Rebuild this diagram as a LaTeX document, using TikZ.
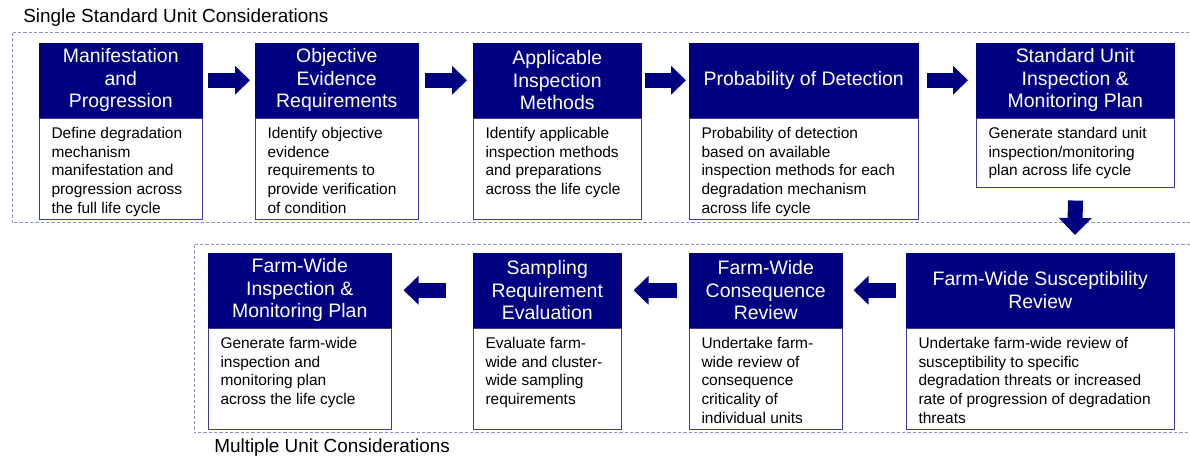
\documentclass[tikz,border=0pt]{standalone}
\usepackage{fontspec}
\setmainfont{Liberation Sans}
\usetikzlibrary{arrows.meta}
\definecolor{navyhead}{RGB}{0,0,128}
\definecolor{bodyline}{RGB}{60,60,160}
\definecolor{dashgrey}{RGB}{135,150,180}
% body text block: width (px), height (px), lines
\newcommand\bodytext[3]{\parbox[c][\dimexpr#2pt*3/4-14pt\relax][t]{\dimexpr#1pt*3/4\relax}{\raggedright\leftskip=9pt\relax #3}}
\begin{document}
\begin{tikzpicture}[x=0.75pt,y=-0.75pt,
  head/.style={draw=navyhead, fill=navyhead, text=white, align=center, inner sep=0pt,
    minimum height=55.5pt, font=\fontsize{14.6}{16.9}\selectfont, anchor=north west},
  body/.style={draw=bodyline, line width=0.75pt, fill=white, inner xsep=0pt, inner ysep=7pt,
    anchor=north west, font=\fontsize{11.6}{14}\selectfont},
  flow/.style={draw=navyhead, line width=11.25pt, -{Triangle[length=11.25pt,width=21pt]}},
  group/.style={draw=dashgrey, line width=0.75pt, dash pattern=on 2.5pt off 1.5pt},
  caption/.style={font=\fontsize{14.2}{17}\selectfont, anchor=west, inner sep=0pt}]
\useasboundingbox (0,0) rectangle (1190,459);
\clip (0,0) rectangle (1190,459);

% group frames
\draw[group] (12,33) rectangle (1200,223);
\draw[group] (194,245) rectangle (1200,433);
\node[caption] (t1) at (23,18) {Single Standard Unit Considerations};
\node[caption] (t2) at (214,448) {Multiple Unit Considerations};

% single standard unit row
\node[head, minimum width=122.25pt] (h1) at (39,43) {Manifestation\\and\\Progression};
\node[body] (b1) at (h1.south west) {\bodytext{163}{101}{Define degradation\\mechanism\\manifestation and\\progression across\\the full life cycle}};

\node[head, minimum width=122.25pt] (h2) at (255,43) {Objective\\Evidence\\Requirements};
\node[body] (b2) at (h2.south west) {\bodytext{163}{101}{Identify objective\\evidence\\requirements to\\provide verification\\of condition}};

\node[head, minimum width=126pt] (h3) at (473,43) {Applicable\\Inspection\\Methods};
\node[body] (b3) at (h3.south west) {\bodytext{168}{101}{Identify applicable\\inspection methods\\and preparations\\across the life cycle}};

\node[head, minimum width=171.75pt] (h4) at (689,43) {Probability of Detection};
\node[body] (b4) at (h4.south west) {\bodytext{229}{101}{Probability of detection\\based on available\\inspection methods for each\\degradation mechanism\\across life cycle}};

\node[head, minimum width=148.5pt] (h5) at (976,43) {Standard Unit\\Inspection \&\\Monitoring Plan};
\node[body] (b5) at (h5.south west) {\bodytext{198}{69}{Generate standard unit\\inspection/monitoring\\plan across life cycle}};

% multiple unit row
\node[head, minimum width=137.25pt] (h6) at (208,253) {Farm-Wide\\Inspection \&\\Monitoring Plan};
\node[body] (b6) at (h6.south west) {\bodytext{183}{101}{Generate farm-wide\\inspection and\\monitoring plan\\across the life cycle}};

\node[head, minimum width=111pt] (h7) at (473,253) {Sampling\\Requirement\\Evaluation};
\node[body] (b7) at (h7.south west) {\bodytext{148}{101}{Evaluate farm-\\wide and cluster-\\wide sampling\\requirements}};

\node[head, minimum width=114.75pt] (h8) at (689,253) {Farm-Wide\\Consequence\\Review};
\node[body] (b8) at (h8.south west) {\bodytext{153}{101}{Undertake farm-\\wide review of\\consequence\\criticality of\\individual units}};

\node[head, minimum width=201pt] (h9) at (906,253) {Farm-Wide Susceptibility\\Review};
\node[body] (b9) at (h9.south west) {\bodytext{268}{101}{Undertake farm-wide review of\\susceptibility to specific\\degradation threats or increased\\rate of progression of degradation\\threats}};

% flow arrows
\draw[flow, shorten <=3.75pt, shorten >=3.75pt] (h1.east) -- (h2.west);
\draw[flow, shorten <=4.5pt, shorten >=4.5pt] (h2.east) -- (h3.west);
\draw[flow, shorten <=2.25pt, shorten >=2.25pt] (h3.east) -- (h4.west);
\draw[flow, shorten <=6pt, shorten >=6pt] (h4.east) -- (h5.west);
\coordinate (drop) at (1075,235);
\draw[flow, -{Triangle[length=12.75pt,width=24pt]}, shorten <=9.75pt] (b5.south) -- (drop);
\draw[flow, shorten <=7.5pt, shorten >=8.25pt] (h9.west) -- (h8.east);
\draw[flow, shorten <=9pt, shorten >=9pt] (h8.west) -- (h7.east);
\draw[flow, shorten <=20.25pt, shorten >=9pt] (h7.west) -- (h6.east);
\end{tikzpicture}
\end{document}
